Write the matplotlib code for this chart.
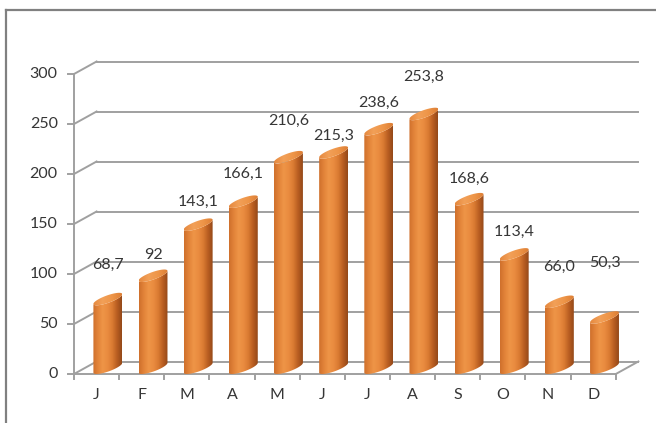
import numpy as np
import matplotlib
matplotlib.use("Agg")
import matplotlib.pyplot as plt
from matplotlib.colors import LinearSegmentedColormap
from matplotlib.patches import Polygon
from matplotlib.lines import Line2D

plt.rcParams['font.family'] = ['Lato', 'DejaVu Sans']

# Monthly values (labels as printed, decimal comma)
months = ["J", "F", "M", "A", "M", "J", "J", "A", "S", "O", "N", "D"]
value_labels = ["68,7", "92", "143,1", "166,1", "210,6", "215,3",
                "238,6", "253,8", "168,6", "113,4", "66,0", "50,3"]
values = [float(s.replace(",", ".")) for s in value_labels]
yticks = [0, 50, 100, 150, 200, 250, 300]

# vertical placement of each value label above its cylinder (value units)
label_lift = [34, 21, 23, 28, 36, 17, 26, 37, 20, 22, 35, 55]

# oblique depth of the 3D box: shift per full depth in (category, value) units
DX, DY = 0.5, 12.5
grid_col = "#A0A0A0"
text_col = "#363636"
fs = 11.5

fig = plt.figure(figsize=(6.56, 4.23), dpi=100)
ax = fig.add_axes([0, 0, 1, 1])
ax.axis("off")

# outer frame
fx, fy = 6 / 656, 1 - 10 / 423
fig.add_artist(Line2D([fx, fx], [0, fy], transform=fig.transFigure, color="#808080", lw=1.6))
fig.add_artist(Line2D([fx, 1], [fy, fy], transform=fig.transFigure, color="#808080", lw=1.6))

n = len(months)

# back wall gridlines, left wall diagonals and y ticks
for v in yticks:
    ax.plot([DX, n + DX], [v + DY, v + DY], color=grid_col, lw=1.4, zorder=1)
    ax.plot([0, DX], [v, v + DY], color=grid_col, lw=1.4, zorder=1)
    ax.plot([-0.13, 0], [v, v], color=grid_col, lw=1.4, zorder=1)
    ax.text(-0.36, v, str(v), ha="right", va="center", fontsize=fs, color=text_col)

# y axis and floor
ax.plot([0, 0], [0, yticks[-1]], color=grid_col, lw=1.4, zorder=1)
ax.plot([0, n], [0, 0], color=grid_col, lw=1.4, zorder=1)
ax.plot([n, n + DX], [0, DY], color=grid_col, lw=1.4, zorder=1)
for i in range(n + 1):
    ax.plot([i, i], [0, -5], color=grid_col, lw=1.4, zorder=1)

for i, m in enumerate(months):
    ax.text(i + 0.5, -21, m, ha="center", va="center", fontsize=fs, color=text_col)

# cylinder shading
body_cmap = LinearSegmentedColormap.from_list(
    "body", ["#CF6F2C", "#E28339", "#EE9547", "#EA8C40", "#DA7B32", "#B85D21", "#934819"])
top_cmap = LinearSegmentedColormap.from_list(
    "top", ["#E5883E", "#F2A058", "#EE9548", "#DC7E35"])

a = 0.2            # circle radius along x (category units)
bdx, bdy = DX / 2, DY / 2
R = np.hypot(a, bdx)
t0 = np.arctan2(bdx, a)
t_front = np.linspace(t0 + np.pi, t0 + 2 * np.pi, 60)
t_all = np.linspace(0, 2 * np.pi, 120)
grad = np.linspace(0, 1, 256).reshape(1, -1)

for i, v in enumerate(values):
    cx = i + 0.5 + DX / 2
    cy = DY / 2
    ex = lambda t: cx + a * np.cos(t) + bdx * np.sin(t)
    ey = lambda t, base: base + bdy * np.sin(t)

    bx = ex(t_front)
    body = np.column_stack([np.concatenate([bx, bx[::-1]]),
                            np.concatenate([ey(t_front, cy), ey(t_front, cy + v)[::-1]])])
    poly = Polygon(body, closed=True, facecolor="none", edgecolor="none", zorder=3)
    ax.add_patch(poly)
    im = ax.imshow(grad, cmap=body_cmap, aspect="auto", interpolation="bilinear",
                   extent=[cx - R, cx + R, cy - bdy, cy + v + bdy], zorder=3)
    im.set_clip_path(poly)

    cap = np.column_stack([ex(t_all), ey(t_all, cy + v)])
    cap_poly = Polygon(cap, closed=True, facecolor="none", edgecolor="none", zorder=4)
    ax.add_patch(cap_poly)
    im2 = ax.imshow(grad, cmap=top_cmap, aspect="auto", interpolation="bilinear",
                    extent=[cx - R, cx + R, cy + v - bdy, cy + v + bdy], zorder=4)
    im2.set_clip_path(cap_poly)

    ax.text(cx, cy + v + label_lift[i], value_labels[i], ha="center", va="center",
            fontsize=fs, color=text_col, zorder=5)

ax.set_xlim(-74 / 45.15, (656 - 74) / 45.15)
ax.set_ylim(-49, 374)

fig.savefig("out.png", dpi=100)
